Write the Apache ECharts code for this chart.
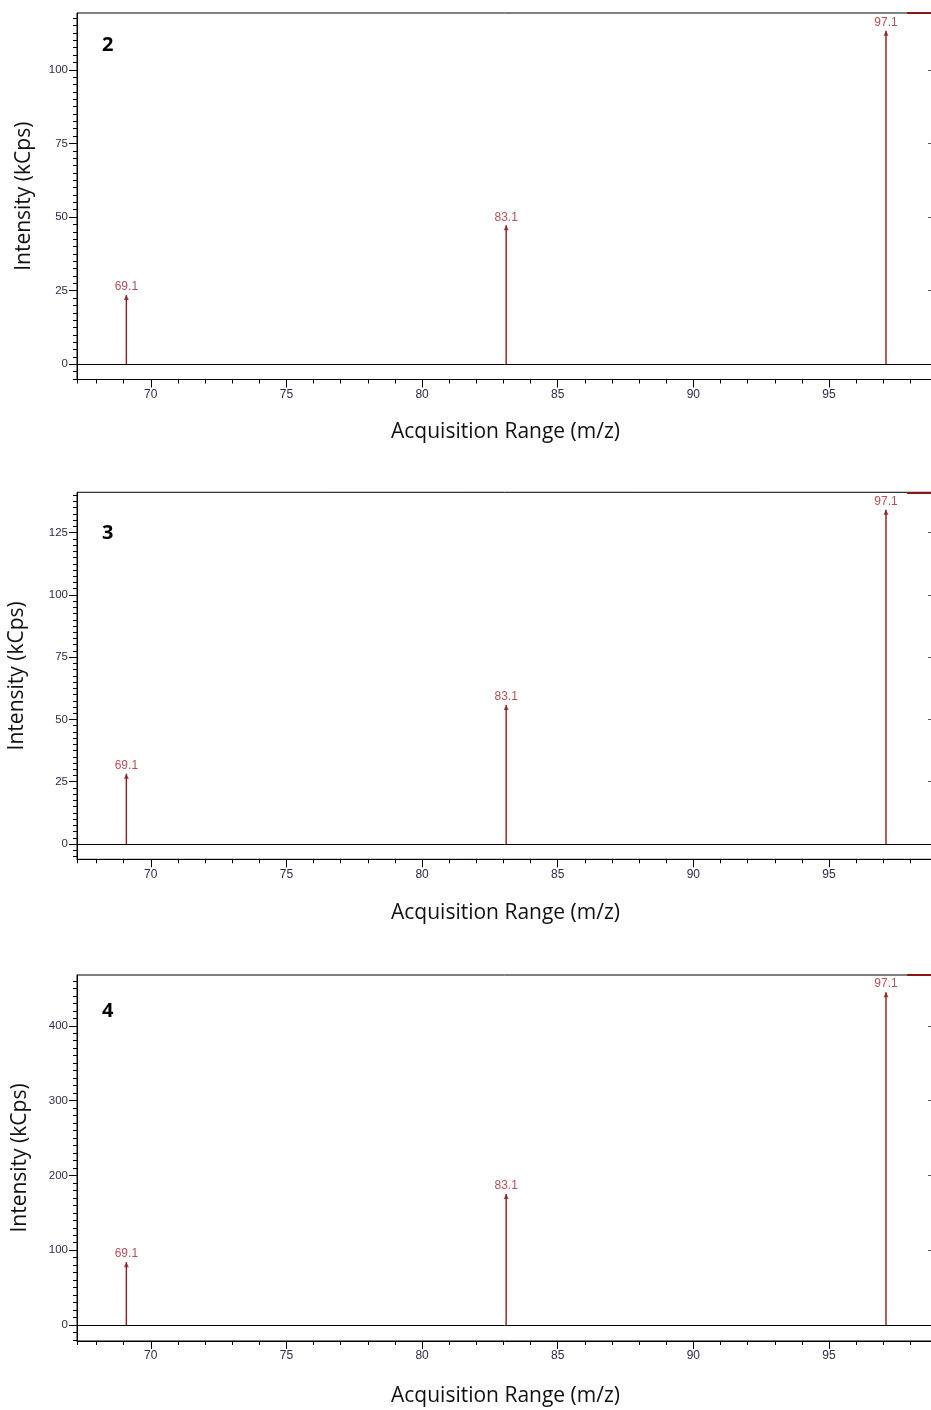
<!DOCTYPE html>
<html>
<head>
<meta charset="utf-8">
<script src="https://cdn.jsdelivr.net/npm/echarts@6/dist/echarts.min.js"></script>
<style>
  html, body { margin: 0; padding: 0; background: #fff; }
  #chart { width: 931px; height: 1410px; }
</style>
</head>
<body>
<div id="chart"></div>
<script>
// Peak positions (m/z) shared by the three spectra
const peakMz = [69.1, 83.1, 97.1];

// Intensities (kCps) for each sample
const intensity2 = [23.5, 47.2, 113.3];
const intensity3 = [28.2, 55.8, 134.2];
const intensity4 = [84, 175, 445];

// Panel labels
const panelNames = ['2', '3', '4'];

// Tick labels
const mzTicks = [70, 75, 80, 85, 90, 95];
const yTicks2 = [0, 25, 50, 75, 100];
const yTicks3 = [0, 25, 50, 75, 100, 125];
const yTicks4 = [0, 100, 200, 300, 400];

const MZ_MIN = 67.28, MZ_MAX = 98.87;

const panels = [
  { name: panelNames[0], values: intensity2, ticks: yTicks2, minorStep: 2.5, top: 13, height: 366.5, min: -5.16, max: 119.3, yGap: 42, xGap: 42, nameTop: 22 },
  { name: panelNames[1], values: intensity3, ticks: yTicks3, minorStep: 2.5, top: 492.3, height: 367, min: -6.14, max: 141.2, yGap: 49, xGap: 43, nameTop: 31 },
  { name: panelNames[2], values: intensity4, ticks: yTicks4, minorStep: 10, top: 975, height: 366, min: -21.4, max: 467.9, yGap: 46, xGap: 45, nameTop: 26 }
];

function stepsBetween(lo, hi, step) {
  const out = [];
  const start = Math.ceil(lo / step - 1e-9) * step;
  for (let v = start; v <= hi + 1e-9; v += step) out.push(+v.toFixed(6));
  return out;
}

const mzMinor = [MZ_MIN].concat(stepsBetween(MZ_MIN, MZ_MAX, 1));

const LABEL_FONT = 'Liberation Sans, Arial, sans-serif';
const TITLE_FONT = 'Open Sans, sans-serif';
const LABEL_COLOR = '#2c2c48';
const STEM_COLOR = '#8e1a20';

const grid = [], xAxis = [], yAxis = [], series = [], title = [];

panels.forEach((p, i) => {
  grid.push({
    left: 77, width: 857, top: p.top, height: p.height,
    outerBoundsMode: 'none', containLabel: false,
    show: true, borderColor: '#000', borderWidth: 1, backgroundColor: 'transparent'
  });

  // bottom m/z axis: labels + major ticks
  xAxis.push({
    type: 'value', gridIndex: i, position: 'bottom', min: MZ_MIN, max: MZ_MAX,
    name: 'Acquisition Range (m/z)', nameLocation: 'middle', nameGap: p.xGap,
    nameTextStyle: { fontFamily: TITLE_FONT, fontSize: 21, color: '#111' },
    axisLine: { show: true, onZero: false, lineStyle: { color: '#000', width: 1 } },
    axisTick: { show: true, inside: false, length: 8, customValues: mzTicks, lineStyle: { color: '#000' } },
    axisLabel: { show: true, customValues: mzTicks, margin: 9, fontFamily: LABEL_FONT, fontSize: 12, color: LABEL_COLOR },
    splitLine: { show: false }
  });
  // bottom m/z axis: minor ticks
  xAxis.push({
    type: 'value', gridIndex: i, position: 'bottom', min: MZ_MIN, max: MZ_MAX,
    axisLine: { show: false, onZero: false },
    axisTick: { show: true, length: 4, customValues: mzMinor, lineStyle: { color: '#000' } },
    axisLabel: { show: false },
    splitLine: { show: false }
  });

  const minor = stepsBetween(p.min, p.max, p.minorStep);
  // left intensity axis: labels + major ticks
  yAxis.push({
    type: 'value', gridIndex: i, position: 'left', min: p.min, max: p.max,
    name: 'Intensity (kCps)', nameLocation: 'middle', nameGap: p.yGap,
    nameTextStyle: { fontFamily: TITLE_FONT, fontSize: 21, color: '#111' },
    axisLine: { show: true, onZero: false, lineStyle: { color: '#000', width: 1 } },
    axisTick: { show: true, length: 8, customValues: p.ticks, lineStyle: { color: '#000' } },
    axisLabel: { show: true, customValues: p.ticks, margin: 9, fontFamily: LABEL_FONT, fontSize: 11.5, color: LABEL_COLOR },
    splitLine: { show: false }
  });
  // left intensity axis: minor ticks
  yAxis.push({
    type: 'value', gridIndex: i, position: 'left', min: p.min, max: p.max,
    axisLine: { show: false, onZero: false },
    axisTick: { show: true, length: 4, customValues: minor, lineStyle: { color: '#000' } },
    axisLabel: { show: false },
    splitLine: { show: false }
  });
  // right intensity axis: short inward ticks at the major values
  yAxis.push({
    type: 'value', gridIndex: i, position: 'right', min: p.min, max: p.max,
    axisLine: { show: false, onZero: false },
    axisTick: { show: true, inside: true, length: 6, customValues: p.ticks, lineStyle: { color: '#555' } },
    axisLabel: { show: false },
    splitLine: { show: false }
  });

  const pts = peakMz.map((m, k) => [m, p.values[k]]);

  // stems
  series.push({
    type: 'bar', xAxisIndex: i * 2, yAxisIndex: i * 3, data: pts,
    barWidth: 1.4, itemStyle: { color: STEM_COLOR }, silent: true,
    markLine: {
      silent: true, symbol: 'none', label: { show: false },
      lineStyle: { color: '#000', type: 'solid', width: 1 },
      data: [{ yAxis: 0 }]
    }
  });
  // arrow heads + peak labels
  series.push({
    type: 'scatter', xAxisIndex: i * 2, yAxisIndex: i * 3, data: pts,
    symbol: 'triangle', symbolSize: [5, 5], symbolOffset: [0, '50%'],
    itemStyle: { color: STEM_COLOR }, silent: true,
    label: {
      show: true, position: 'top', distance: 2,
      formatter: (d) => d.value[0].toFixed(1),
      fontFamily: LABEL_FONT, fontSize: 12, color: '#a3262c'
    },
    markLine: {
      silent: true, symbol: 'none', label: { show: false },
      lineStyle: { color: '#8b1414', type: 'solid', width: 2 },
      data: [[{ coord: [97.88, p.max] }, { coord: [MZ_MAX, p.max] }]]
    }
  });

  title.push({
    text: p.name, left: 102, top: p.top + p.nameTop, padding: 0,
    textStyle: { fontFamily: 'Open Sans, sans-serif', fontWeight: 'bold', fontSize: 20, color: '#000' }
  });
});

const chart = echarts.init(document.getElementById('chart'), null, { renderer: 'canvas' });
chart.setOption({
  animation: false,
  backgroundColor: '#fff',
  title, grid, xAxis, yAxis, series
});
</script>
</body>
</html>
